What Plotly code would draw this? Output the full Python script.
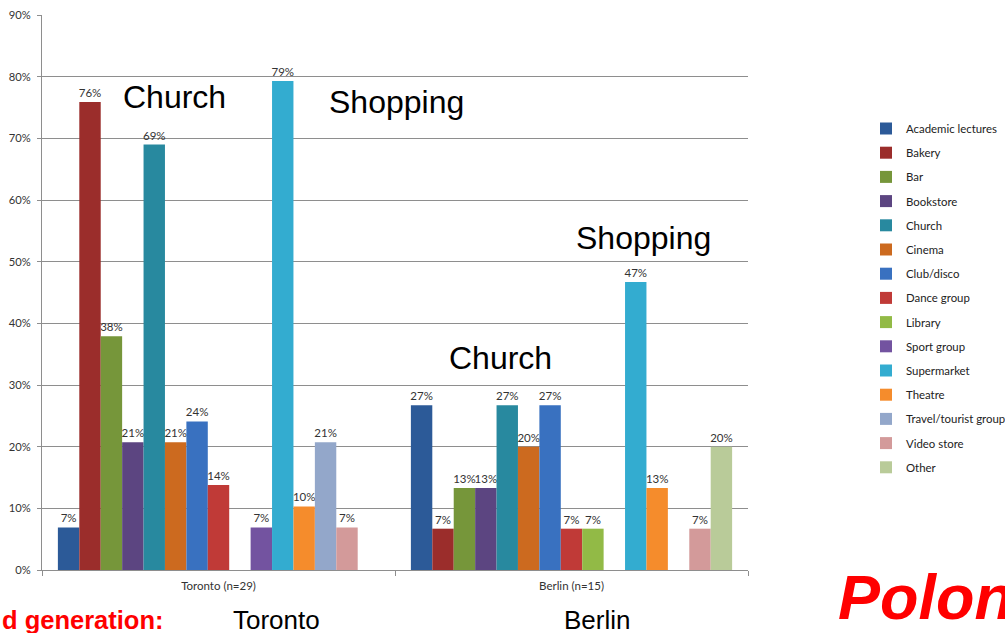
import plotly.graph_objects as go

# Share of respondents naming each place, by city
cities = ["Toronto (n=29)", "Berlin (n=15)"]
places = [
    "Academic lectures", "Bakery", "Bar", "Bookstore", "Church", "Cinema",
    "Club/disco", "Dance group", "Library", "Sport group", "Supermarket",
    "Theatre", "Travel/tourist group", "Video store", "Other",
]
toronto = [0.069, 0.759, 0.379, 0.207, 0.690, 0.207, 0.241, 0.138, None,
           0.069, 0.793, 0.103, 0.207, 0.069, None]
berlin = [0.267, 0.067, 0.133, 0.133, 0.267, 0.200, 0.267, 0.067, 0.067,
          None, 0.467, 0.133, None, 0.067, 0.200]
colors = ["#2C5A98", "#9B2D2B", "#76963A", "#5C4581", "#28899F", "#CC6A1F",
          "#3971C0", "#C03A37", "#92BA46", "#7353A0", "#33ACD0", "#F58C2C",
          "#93A7CA", "#D39A9A", "#B9CB99"]

L, R, T, B = 42, 748, 15, 570
W, H = 1005, 633

fig = go.Figure()
for i, name in enumerate(places):
    vals = [toronto[i], berlin[i]]
    fig.add_trace(go.Bar(
        x=cities, y=vals, name=name, legendgroup=name,
        marker=dict(color=colors[i], line=dict(width=0)),
        texttemplate="%{y:.0%}", textposition="outside",
        textfont=dict(family="Lato", size=11.5, color="#333333"),
        constraintext="none", cliponaxis=False,
    ))


def px(x):
    return (x - L) / (R - L)


def py(y):
    return (B - y) / (B - T)


notes = [
    ("Church", 174, 97, 32, "#000000", "center", "Arial"),
    ("Shopping", 396, 102, 32, "#000000", "center", "Arial"),
    ("Shopping", 643, 238, 32, "#000000", "center", "Arial"),
    ("Church", 500, 358, 32, "#000000", "center", "Arial"),
    ("Toronto", 276, 620, 26, "#000000", "center", "Arial"),
    ("Berlin", 597, 620, 26, "#000000", "center", "Arial"),
]
annotations = [
    dict(text=t, x=px(x), y=py(y), xref="paper", yref="paper",
         xanchor=a, yanchor="middle", showarrow=False,
         font=dict(family=f, size=s, color=c))
    for t, x, y, s, c, a, f in notes
]
annotations.append(dict(
    text="<b>d generation:</b>", x=px(0), y=py(620), xref="paper", yref="paper",
    xanchor="left", yanchor="middle", showarrow=False,
    font=dict(family="Arial", size=25.5, color="#FF0000")))
annotations.append(dict(
    text="<b><i>Polon</i></b>", x=px(836), y=py(597), xref="paper", yref="paper",
    xanchor="left", yanchor="middle", showarrow=False,
    font=dict(family="Arial", size=63, color="#FF0000")))

fig.update_layout(
    width=W, height=H,
    margin=dict(l=L, r=W - R, t=T, b=H - B, pad=0, autoexpand=False),
    paper_bgcolor="white", plot_bgcolor="white",
    barmode="group", bargap=0.09, bargroupgap=0,
    font=dict(family="Lato", size=10, color="#333333"),
    showlegend=True,
    legend=dict(
        x=px(866), y=py(114), xanchor="left", yanchor="top",
        font=dict(family="Lato", size=11.4, color="#222222"),
        tracegroupgap=5.2, itemwidth=30, bgcolor="rgba(0,0,0,0)",
    ),
    annotations=annotations,
)
fig.update_yaxes(
    range=[0, 0.9], dtick=0.1, tickformat=".0%",
    showgrid=True, gridcolor="#8E8E8E", gridwidth=1,
    showline=True, linecolor="#8E8E8E", linewidth=1,
    ticks="outside", ticklen=4, tickcolor="#8E8E8E", ticklabelstandoff=4,
    tickfont=dict(family="Lato", size=11.2, color="#333333"),
    zeroline=False, automargin=False,
)
fig.update_xaxes(
    showline=True, linecolor="#8E8E8E", linewidth=1,
    ticks="outside", ticklen=5, tickcolor="#8E8E8E", tickson="boundaries",
    ticklabelstandoff=5,
    tickfont=dict(family="Lato", size=11.5, color="#333333"),
    showgrid=False, automargin=False,
)

fig.write_html("out.html")
